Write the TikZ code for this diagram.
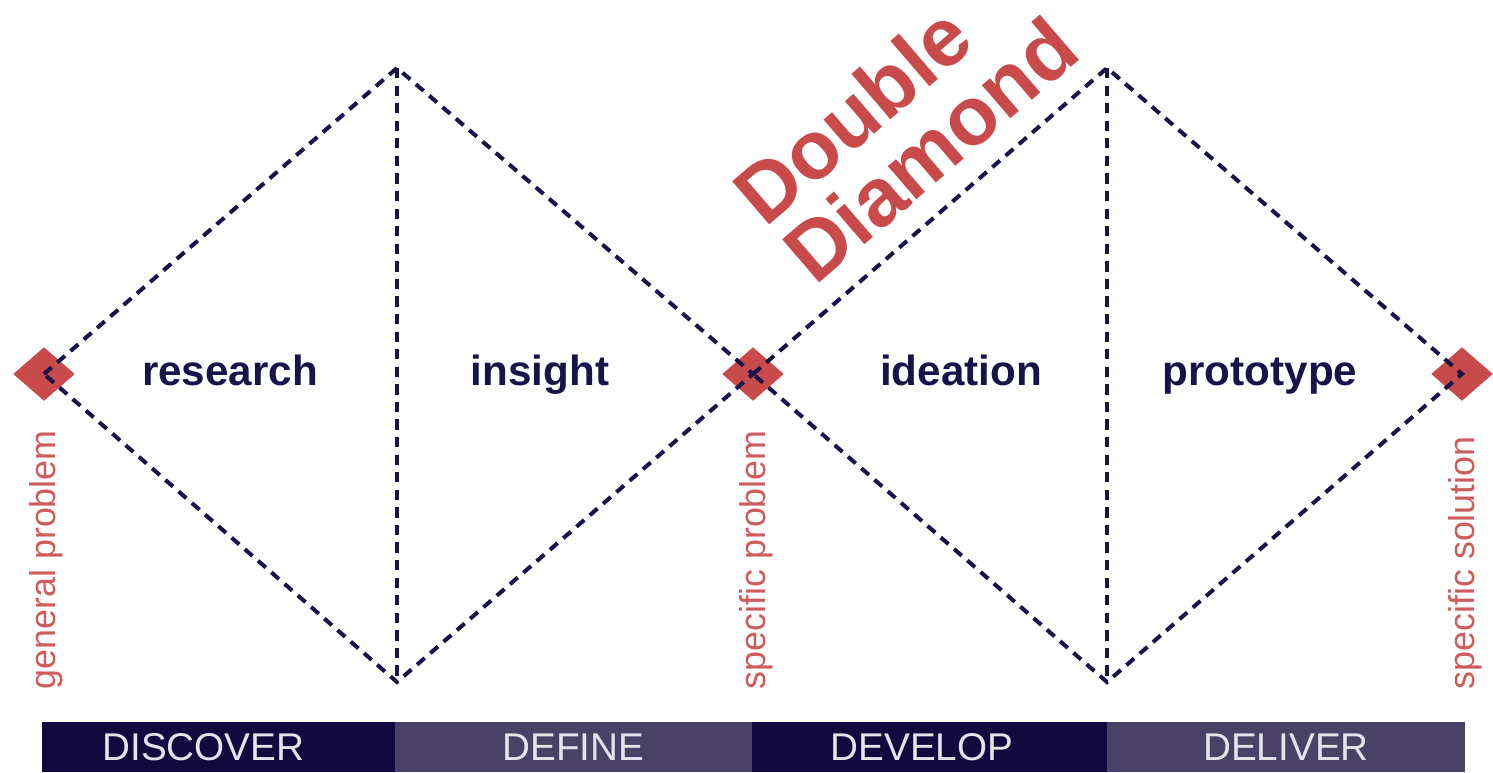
\documentclass[tikz,border=0pt]{standalone}
\usepackage{fontspec}
\setmainfont{Liberation Sans}
\usepackage{xcolor}
\usetikzlibrary{shapes.geometric}
\usetikzlibrary{positioning}
\definecolor{navy}{RGB}{22,20,74}
\definecolor{ddred}{RGB}{201,74,74}
\definecolor{bardark}{RGB}{18,10,62}
\definecolor{barlight}{RGB}{73,66,102}

\tikzset{
  tip/.style={shape=diamond,fill=ddred,aspect=1.15,minimum width=6.2mm,minimum height=5.4mm,inner sep=0pt},
  guide/.style={draw=navy,line width=1.15pt,dash pattern=on 2.9pt off 2.1pt},
  phase/.style={font=\fontsize{12}{14}\selectfont\bfseries,text=navy,anchor=base},
  state/.style={font=\fontsize{10.2}{12}\selectfont,text=ddred!90!white,rotate=90,anchor=west,inner sep=0pt},
  stage/.style={font=\fontsize{11}{13}\selectfont,text=white!88!navy,minimum height=5mm,inner sep=0pt,outer sep=0pt}
}

\begin{document}
\begin{tikzpicture}[x=0.1mm,y=-0.1mm]
\useasboundingbox (0,0) rectangle (1493,772);

% end points of the two diamonds
\node (gp) [tip] at (44,374) {};
\node (sp) [tip] at (753,374) {};
\node (ss) [tip] at (1462,374) {};
\coordinate (top1) at (397,68);
\coordinate (bot1) at (397,682);
\coordinate (top2) at (1107,68);
\coordinate (bot2) at (1107,682);

\draw[guide] (gp.center) -- (top1) -- (sp.center) -- (bot1) -- cycle;
\draw[guide] (sp.center) -- (top2) -- (ss.center) -- (bot2) -- cycle;
\draw[guide] (top1) -- (bot1) (top2) -- (bot2);

\node (research)  [phase] at (230,385) {research};
\node (insight)   [phase] at (540,385) {insight};
\node (ideation)  [phase] at (961,385) {ideation};
\node (prototype) [phase] at (1260,385) {prototype};

\node (gplabel) [state] at (46,690) {general problem};
\node (splabel) [state] at (756,690) {specific problem};
\node (sslabel) [state] at (1465,690) {specific solution};

\node (title) [font=\fontsize{23.5}{22}\selectfont\bfseries,text=ddred,rotate=40.7,align=left,inner sep=0pt] at (905,120) {Double\\Diamond};

% phases along the bottom
\node (discover) [stage,fill=bardark,anchor=north west,minimum width=35.3mm] at (42,722) {DISCOVER\kern3mm};
\node (define)   [stage,fill=barlight,right=0pt of discover,minimum width=35.7mm] {DEFINE};
\node (develop)  [stage,fill=bardark,right=0pt of define,minimum width=35.5mm] {DEVELOP\kern1.5mm};
\node (deliver)  [stage,fill=barlight,right=0pt of develop,minimum width=35.8mm] {DELIVER};
\end{tikzpicture}
\end{document}
